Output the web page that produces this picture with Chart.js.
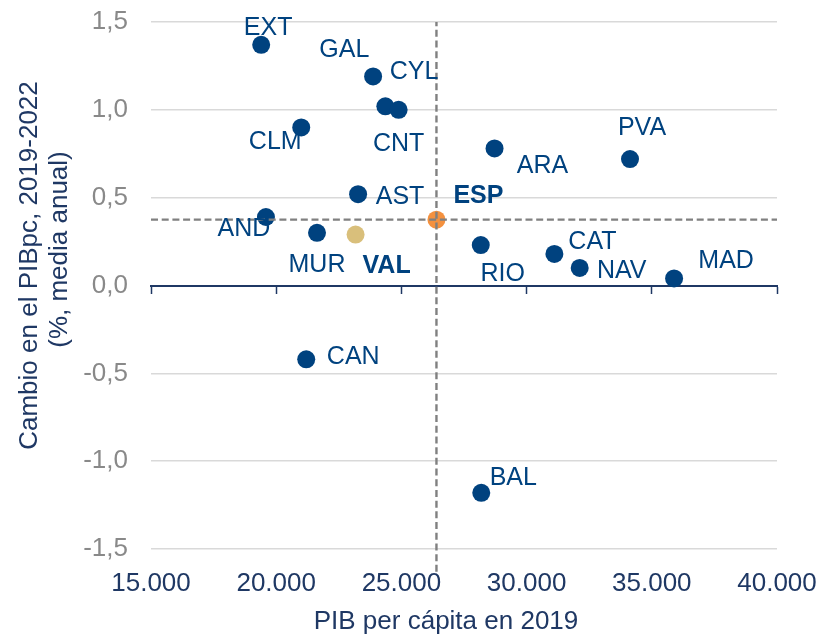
<!DOCTYPE html>
<html>
<head>
<meta charset="utf-8">
<script src="https://cdn.jsdelivr.net/npm/chart.js@4.4.1/dist/chart.umd.min.js"></script>
<style>
  html, body { margin: 0; padding: 0; background: #fff; }
  #wrap { width: 823px; height: 637px; }
</style>
</head>
<body>
<div id="wrap"><canvas id="graphCanvas" width="823" height="637"></canvas></div>
<script>
// Comunidades autónomas: PIB per cápita 2019 (x) y cambio anual medio 2019-2022 (y)
const regions = ['EXT', 'GAL', 'CYL', 'CNT', 'CLM', 'AST', 'AND', 'MUR', 'CAN', 'ARA', 'RIO', 'BAL', 'CAT', 'NAV', 'PVA', 'MAD'];
const pib2019 = [19400, 24360, 23870, 24890, 21000, 23270, 19590, 21630, 21200, 28720, 28170, 28190, 31110, 32120, 34130, 35890];
const cambioPibPc = [1.37, 1.02, 1.19, 1.00, 0.90, 0.52, 0.39, 0.30, -0.42, 0.78, 0.23, -1.18, 0.18, 0.10, 0.72, 0.04];

// Comunitat Valenciana y media de España
const valPib = [23170];
const valCambio = [0.29];
const espPib = [26400];
const espCambio = [0.375];

// Ejes
const xTicks = [15000, 20000, 25000, 30000, 35000, 40000];
const yTicks = [-1.5, -1.0, -0.5, 0.0, 0.5, 1.0, 1.5];
const refLineYRange = [-1.63, 1.5];

const xTitle = 'PIB per cápita en 2019';
const yTitle = ['Cambio en el PIBpc, 2019-2022', '(%, media anual)'];

// Estilos
const NAVY = '#00427f';
const DARK = '#1f3864';
const FONT = "'Liberation Sans', Arial, sans-serif";

// posición de cada etiqueta respecto a su punto (px)
const labelOffsets = {
    EXT: [7, -17], GAL: [-41, -56], CYL: [41, -4], CNT: [0, 34], CLM: [-26, 14.5],
    AST: [42, 3], AND: [-22, 12], MUR: [0, 32.5], CAN: [47, -2.5], ARA: [48, 18],
    RIO: [22, 29], BAL: [32, -15], CAT: [38, -12], NAV: [42, 3], PVA: [12, -31],
    MAD: [52, -17], VAL: [31, 32], ESP: [42, -24]
};

const fmtMiles = v => String(v).replace(/\B(?=(\d{3})+(?!\d))/g, '.');
const fmtDec = v => v.toFixed(1).replace('.', ',');

const toPoints = (xs, ys) => xs.map((x, i) => ({ x: x, y: ys[i] }));

// Etiquetas de los puntos
const pointLabels = {
    id: 'pointLabels',
    afterDatasetsDraw(chart) {
        const ctx = chart.ctx;
        ctx.save();
        ctx.textAlign = 'center';
        ctx.textBaseline = 'middle';
        chart.data.datasets.forEach((ds, di) => {
            if (!ds.names) return;
            const meta = chart.getDatasetMeta(di);
            ctx.font = (ds.boldLabels ? 'bold ' : '') + '25px ' + FONT;
            ctx.fillStyle = NAVY;
            meta.data.forEach((el, i) => {
                const name = ds.names[i];
                const off = labelOffsets[name] || [0, 0];
                ctx.fillText(name, el.x + off[0], el.y + off[1]);
            });
        });
        ctx.restore();
    }
};

// Títulos de los ejes
const axisTitles = {
    id: 'axisTitles',
    afterDraw(chart) {
        const ctx = chart.ctx;
        const area = chart.chartArea;
        ctx.save();
        ctx.fillStyle = DARK;
        ctx.font = '26px ' + FONT;
        ctx.textAlign = 'center';
        ctx.textBaseline = 'middle';
        ctx.fillText(xTitle, (area.left + area.right) / 2 - 18, area.bottom + 73);

        ctx.translate(30, (area.top + area.bottom) / 2 - 20);
        ctx.rotate(-Math.PI / 2);
        ctx.fillText(yTitle[0], 0, 0);
        ctx.fillText(yTitle[1], 16, 30);
        ctx.restore();
    }
};

const renderGraph = () => {
    const ctx = document.getElementById('graphCanvas').getContext('2d');
    new Chart(ctx, {
        type: 'scatter',
        data: {
            datasets: [
                {
                    // línea vertical de referencia (España)
                    data: refLineYRange.map(y => ({ x: espPib[0], y: y })),
                    showLine: true,
                    borderColor: '#808080',
                    borderWidth: 2.4,
                    borderDash: [7, 3.7],
                    pointRadius: 0,
                    clip: false
                },
                {
                    // línea horizontal de referencia (España)
                    data: [{ x: xTicks[0], y: espCambio[0] }, { x: xTicks[xTicks.length - 1], y: espCambio[0] }],
                    showLine: true,
                    borderColor: '#808080',
                    borderWidth: 2.4,
                    borderDash: [7, 3.7],
                    pointRadius: 0
                },
                {
                    data: toPoints(espPib, espCambio),
                    names: ['ESP'],
                    boldLabels: true,
                    backgroundColor: '#f4913f',
                    borderWidth: 0,
                    pointRadius: 9
                },
                {
                    data: toPoints(valPib, valCambio),
                    names: ['VAL'],
                    boldLabels: true,
                    backgroundColor: '#d9bf7b',
                    borderWidth: 0,
                    pointRadius: 9
                },
                {
                    data: toPoints(pib2019, cambioPibPc),
                    names: regions,
                    backgroundColor: NAVY,
                    borderWidth: 0,
                    pointRadius: 9
                }
            ]
        },
        options: {
            responsive: false,
            animation: false,
            devicePixelRatio: 1,
            layout: { padding: { top: 22, right: 46, bottom: 0, left: 0 } },
            plugins: {
                legend: { display: false },
                tooltip: { enabled: false }
            },
            scales: {
                x: {
                    type: 'linear',
                    position: 'bottom',
                    min: xTicks[0],
                    max: xTicks[xTicks.length - 1],
                    afterBuildTicks: scale => { scale.ticks = xTicks.map(v => ({ value: v })); },
                    afterFit: scale => { scale.height = 88; },
                    // marcas invisibles: solo separan las etiquetas del área
                    grid: { drawOnChartArea: false, drawTicks: true, tickLength: 19, tickColor: 'rgba(0,0,0,0)' },
                    border: { display: false },
                    ticks: {
                        color: DARK,
                        font: { family: FONT, size: 26 },
                        padding: 0,
                        maxRotation: 0,
                        callback: v => fmtMiles(v)
                    }
                },
                xZero: {
                    type: 'linear',
                    axis: 'x',
                    position: { y: 0 },
                    min: xTicks[0],
                    max: xTicks[xTicks.length - 1],
                    afterBuildTicks: scale => { scale.ticks = xTicks.map(v => ({ value: v })); },
                    grid: {
                        drawOnChartArea: false,
                        drawTicks: true,
                        tickLength: 7,
                        color: DARK,
                        tickColor: DARK,
                        tickWidth: 1.5
                    },
                    border: { display: true, color: DARK, width: 2 },
                    ticks: { display: false }
                },
                y: {
                    type: 'linear',
                    min: yTicks[0],
                    max: yTicks[yTicks.length - 1],
                    afterBuildTicks: scale => { scale.ticks = yTicks.map(v => ({ value: v })); },
                    afterFit: scale => { scale.width = 151; },
                    grid: { color: '#d9d9d9', lineWidth: 1.5, drawTicks: true, tickLength: 23, tickColor: 'rgba(0,0,0,0)' },
                    border: { display: false },
                    ticks: {
                        color: '#898989',
                        font: { family: FONT, size: 26 },
                        padding: 0,
                        callback: v => fmtDec(v)
                    }
                }
            }
        },
        plugins: [pointLabels, axisTitles]
    });
};

renderGraph();
</script>
</body>
</html>
